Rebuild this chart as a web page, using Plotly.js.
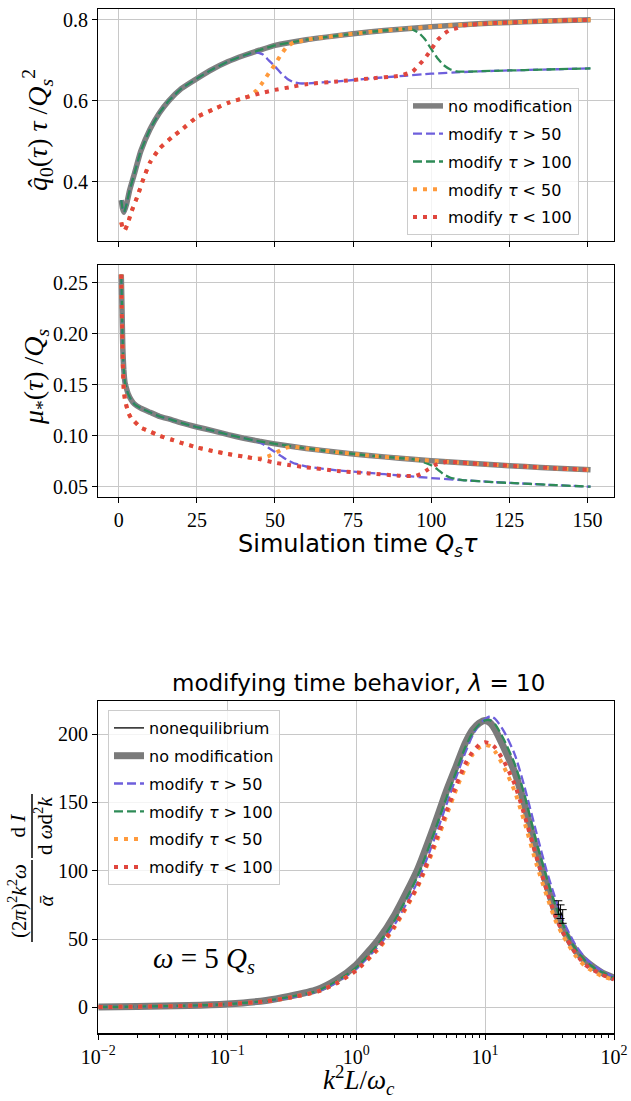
<!DOCTYPE html>
<html><head><meta charset="utf-8">
<script src="https://cdn.plot.ly/plotly-3.0.1.min.js"></script>
<style>html,body{margin:0;padding:0;background:#fff}</style>
</head><body><div id="chart" style="width:631px;height:1101px"></div>
<script>
// ---------- top panel: q0(tau) tau / Qs^2 ----------
const tauGrayTop = [0.8,1.2,1.7,2.5,3.5,5,7,10,13,16,20,25,30,35,40,45,50,60,70,80,90,100,110,120,130,140,151];
const qGray      = [0.355,0.335,0.325,0.345,0.38,0.42,0.475,0.53,0.57,0.60,0.63,0.655,0.678,0.697,0.712,0.725,0.737,0.751,0.761,0.77,0.777,0.783,0.788,0.792,0.795,0.798,0.80];
const tauBlueTop = [0.8,1.2,1.7,2.5,3.5,5,7,10,13,16,20,25,30,35,40,44,46,48,50,52,54,56,58,60,70,80,90,100,110,120,130,140,151];
const qBlue      = [0.355,0.335,0.325,0.345,0.38,0.42,0.475,0.53,0.57,0.60,0.63,0.655,0.678,0.697,0.712,0.72,0.715,0.70,0.685,0.668,0.654,0.646,0.643,0.643,0.648,0.655,0.661,0.667,0.671,0.674,0.676,0.678,0.680];
const tauGreenTop= [0.8,1.2,1.7,2.5,3.5,5,7,10,13,16,20,25,30,35,40,45,50,60,70,80,90,94,96,98,100,102,104,106,108,110,120,130,140,151];
const qGreen     = [0.355,0.335,0.325,0.345,0.38,0.42,0.475,0.53,0.57,0.60,0.63,0.655,0.678,0.697,0.712,0.725,0.737,0.751,0.761,0.77,0.777,0.776,0.768,0.752,0.728,0.705,0.688,0.678,0.673,0.672,0.674,0.676,0.678,0.680];
const tauOrangeTop=[0.8,1.2,1.9,3,4,6,8,10,13,17,20,25,30,35,40,42,44,46,48,50,52,54,56,58,60,70,80,90,100,110,120,130,140,151];
const qOrange    = [0.30,0.288,0.28,0.30,0.325,0.365,0.41,0.448,0.482,0.51,0.528,0.56,0.578,0.595,0.607,0.612,0.625,0.645,0.668,0.69,0.715,0.735,0.744,0.747,0.751,0.761,0.77,0.777,0.783,0.788,0.792,0.795,0.798,0.80];
const tauRedTop  = [0.8,1.2,1.9,3,4,6,8,10,13,17,20,25,30,35,40,45,50,55,60,70,80,90,94,96,98,100,102,104,106,108,110,120,130,140,151];
const qRed       = [0.30,0.288,0.28,0.30,0.325,0.365,0.41,0.448,0.482,0.51,0.528,0.56,0.578,0.595,0.607,0.618,0.627,0.634,0.641,0.648,0.655,0.662,0.672,0.688,0.705,0.727,0.75,0.765,0.775,0.779,0.786,0.792,0.795,0.798,0.80];

// ---------- middle panel: mu_*(tau) / Qs ----------
const tauGrayMid = [0.8,1.0,1.3,1.6,2,2.5,3,4,5,7,10,13,17,20,25,30,35,40,45,50,60,70,80,90,100,110,120,130,140,151];
const muGray     = [0.258,0.23,0.185,0.165,0.152,0.146,0.141,0.135,0.131,0.127,0.123,0.119,0.1155,0.1125,0.1085,0.105,0.101,0.0975,0.0945,0.092,0.0875,0.0838,0.0805,0.078,0.0755,0.0735,0.0715,0.0697,0.068,0.0665];
const tauBlueMid = [0.8,1.0,1.3,1.6,2,2.5,3,4,5,7,10,13,17,20,25,30,35,40,44,46,48,50,52,54,56,58,60,70,80,90,100,110,120,130,140,151];
const muBlue     = [0.258,0.23,0.185,0.165,0.152,0.146,0.141,0.135,0.131,0.127,0.123,0.119,0.1155,0.1125,0.1085,0.105,0.101,0.0975,0.0948,0.092,0.088,0.084,0.080,0.076,0.073,0.0715,0.0698,0.066,0.0635,0.061,0.0585,0.0565,0.0545,0.053,0.0515,0.050];
const tauGreenMid= [0.8,1.0,1.3,1.6,2,2.5,3,4,5,7,10,13,17,20,25,30,35,40,45,50,60,70,80,90,94,96,98,100,102,104,106,108,110,120,130,140,151];
const muGreen    = [0.258,0.23,0.185,0.165,0.152,0.146,0.141,0.135,0.131,0.127,0.123,0.119,0.1155,0.1125,0.1085,0.105,0.101,0.0975,0.0945,0.092,0.0875,0.0838,0.0805,0.078,0.077,0.0755,0.0735,0.071,0.067,0.062,0.059,0.0575,0.0565,0.0545,0.053,0.0515,0.050];
const tauOrangeMid=[0.8,1.0,1.3,1.6,2,3,4,5,7,10,13,17,20,25,30,35,40,44,46,48,50,52,54,56,60,70,80,90,100,110,120,130,140,151];
const muOrange   = [0.258,0.22,0.17,0.145,0.135,0.123,0.117,0.114,0.108,0.104,0.1,0.096,0.093,0.0885,0.085,0.082,0.0795,0.0775,0.078,0.080,0.083,0.086,0.0885,0.089,0.0875,0.0838,0.0805,0.078,0.0755,0.0735,0.0715,0.0697,0.068,0.0665];
const tauRedMid  = [0.8,1.0,1.3,1.6,2,3,4,5,7,10,13,17,20,25,30,35,40,45,50,55,60,70,80,90,95,97,99,101,103,105,107,110,120,130,140,151];
const muRed      = [0.258,0.22,0.17,0.145,0.135,0.123,0.117,0.114,0.108,0.104,0.1,0.096,0.093,0.0885,0.085,0.082,0.0795,0.077,0.0735,0.071,0.069,0.0655,0.063,0.0607,0.0605,0.063,0.067,0.071,0.073,0.0745,0.0742,0.0735,0.0715,0.0697,0.068,0.0665];

// ---------- bottom panel: spectrum vs k^2 L / omega_c ----------
const kL       = [0.01,0.02,0.05,0.1,0.2,0.3,0.5,0.7,1,1.5,2,3,4,5,6,7,8,9,10,11,12,14,17,20,25,30,35,40,50,60,70,80,100];
const specGray = [0.3,0.6,1.3,2.5,5,8,13,20,31,50,68,101,132,158,177,193,203,208,210,208,203,190,172,150,115,90,70,58,42,34,29,25.5,21.5];
const specBlue = [0.2,0.5,1.1,2.2,4.5,7,11.5,18,28,45,61,92,122,148,169,186,199,207,211,213,211,202,185,163,128,100,80,64,46,36,30.5,27,22];
const specGreen= [0.25,0.55,1.2,2.3,4.7,7.5,12,19,29,47,64,96,127,153,173,190,201,207,210,210,207,196,178,157,121,95,75,61,43,34,29,26,21.5];
const specOrange=[0.2,0.5,1.1,2.2,4.4,7,11.5,17.5,27,43,59,88,116,140,160,175,185,190,192,191,187,176,158,137,105,82,64,53,38,30,26,23,20];
const specRed  = [0.2,0.5,1.1,2.2,4.4,7,11.5,17.5,27,44,60,89,118,143,163,178,187,192,194,193,190,180,163,142,110,86,67,55,40,31,27,24,20.5];
const kLNoneq   = [37,38.5,40];
const specNoneq = [73,70,66.5];
const errNoneq  = [5,5,5];

const seriesNames = ['no modification','modify <i>τ</i> &gt; 50','modify <i>τ</i> &gt; 100','modify <i>τ</i> &lt; 50','modify <i>τ</i> &lt; 100'];
const timeTicks = [0,25,50,75,100,125,150];
const qTicks = [0.4,0.6,0.8];
const muTicks = [0.05,0.10,0.15,0.20,0.25];
const specTicks = [0,50,100,150,200];
const kLTicks = [0.01,0.1,1,10,100];
const kLTickText = ['10<sup>−2</sup>','10<sup>−1</sup>','10<sup>0</sup>','10<sup>1</sup>','10<sup>2</sup>'];

const W = 631, H = 1101;
const px = x => x / W, py = y => 1 - y / H;

const GRAY = '#808080', BLUE = '#6e5fdc', GREEN = '#2e8b57', ORANGE = '#ff9a3c', RED = '#e0463e';
const styles = [
  {color: GRAY, width: 5.5, dash: 'solid'},
  {color: BLUE, width: 2.3, dash: '9px,4px'},
  {color: GREEN, width: 2.3, dash: '9px,4px'},
  {color: ORANGE, width: 4, dash: '4px,6px'},
  {color: RED, width: 4, dash: '4px,6px'}
];

const traces = [];
const topX = [tauGrayTop, tauBlueTop, tauGreenTop, tauOrangeTop, tauRedTop];
const topY = [qGray, qBlue, qGreen, qOrange, qRed];
const midX = [tauGrayMid, tauBlueMid, tauGreenMid, tauOrangeMid, tauRedMid];
const midY = [muGray, muBlue, muGreen, muOrange, muRed];
const botY = [specGray, specBlue, specGreen, specOrange, specRed];

for (let i = 0; i < 5; i++) {
  traces.push({x: topX[i], y: topY[i], xaxis: 'x', yaxis: 'y', type: 'scatter', mode: 'lines',
    name: seriesNames[i], legend: 'legend', legendgroup: 'g' + i, legendrank: i + 1,
    line: {color: styles[i].color, width: styles[i].width, dash: styles[i].dash, shape: 'spline', smoothing: 0.4}});
}
for (let i = 0; i < 5; i++) {
  traces.push({x: midX[i], y: midY[i], xaxis: 'x2', yaxis: 'y2', type: 'scatter', mode: 'lines',
    showlegend: false, hoverinfo: 'skip',
    line: {color: styles[i].color, width: styles[i].width, dash: styles[i].dash, shape: 'spline', smoothing: 0.4}});
}
for (let i = 0; i < 5; i++) {
  traces.push({x: kL, y: botY[i], xaxis: 'x3', yaxis: 'y3', type: 'scatter', mode: 'lines',
    name: seriesNames[i], legend: 'legend2', legendgroup: 'h' + i, legendrank: i + 2,
    line: {color: i === 0 ? '#7a7a7a' : styles[i].color, width: i === 0 ? 7 : styles[i].width, dash: styles[i].dash, shape: 'spline', smoothing: 0.6}});
}
traces.push({x: kLNoneq, y: specNoneq, xaxis: 'x3', yaxis: 'y3', type: 'scatter', mode: 'lines',
  name: 'nonequilibrium', legend: 'legend2', legendgroup: 'h_neq', legendrank: 1,
  line: {color: 'black', width: 1.3},
  error_y: {type: 'data', array: errNoneq, visible: true, color: 'black', thickness: 1, width: 4}});

const tickFont = {family: 'Liberation Serif, DejaVu Serif, serif', size: 20, color: 'black'};
const xDom = [px(98.3), px(614)];
const axBase = {showline: true, mirror: true, linecolor: 'black', linewidth: 1.2, ticks: 'outside', ticklen: 5,
  tickcolor: 'black', showgrid: true, gridcolor: '#c8c8c8', gridwidth: 1, zeroline: false, tickfont: tickFont, automargin: false};
const legFont = {family: 'DejaVu Sans, sans-serif', size: 16, color: 'black'};

const layout = {
  width: W, height: H, margin: {l: 0, r: 0, t: 0, b: 0},
  paper_bgcolor: 'white', plot_bgcolor: 'white',
  font: {family: 'DejaVu Sans, sans-serif', color: 'black'},
  xaxis: Object.assign({}, axBase, {domain: xDom, anchor: 'y', range: [-6.55, 158.5], tickmode: 'array', tickvals: timeTicks, showticklabels: false}),
  yaxis: Object.assign({}, axBase, {domain: [py(241), py(9.3)], anchor: 'x', range: [0.254, 0.826], tickmode: 'array', tickvals: qTicks, ticktext: qTicks.map(v => v.toFixed(1))}),
  xaxis2: Object.assign({}, axBase, {domain: xDom, anchor: 'y2', range: [-6.55, 158.5], tickmode: 'array', tickvals: timeTicks}),
  yaxis2: Object.assign({}, axBase, {domain: [py(496.7), py(264.7)], anchor: 'x2', range: [0.0402, 0.2676], tickmode: 'array', tickvals: muTicks, ticktext: muTicks.map(v => v.toFixed(2))}),
  xaxis3: Object.assign({}, axBase, {domain: xDom, anchor: 'y3', type: 'log', range: [-2, 2], tickmode: 'array', tickvals: kLTicks, ticktext: kLTickText,
    minor: {ticks: 'outside', ticklen: 3, tickcolor: 'black', dtick: 'D1', showgrid: false}}),
  yaxis3: Object.assign({}, axBase, {domain: [py(1033.3), py(700.7)], anchor: 'x3', range: [-19, 224.4], tickmode: 'array', tickvals: specTicks}),
  legend: {x: px(407), y: py(88), xanchor: 'left', yanchor: 'top', bgcolor: 'rgba(255,255,255,0.8)', bordercolor: '#cccccc', borderwidth: 1,
    font: legFont, tracegroupgap: 4, traceorder: 'grouped'},
  legend2: {x: px(108), y: py(710), xanchor: 'left', yanchor: 'top', bgcolor: 'rgba(255,255,255,0.8)', bordercolor: '#cccccc', borderwidth: 1,
    font: legFont, tracegroupgap: 4, traceorder: 'grouped'},
  annotations: [
    {xref: 'paper', yref: 'paper', x: px(38), y: py(130), textangle: -90, showarrow: false, xanchor: 'center', yanchor: 'middle',
      text: '<i>q\u0302</i><sub>0</sub>(<i>τ</i>) <i>τ</i> /<i>Q</i><sub><i>s</i></sub><sup>2</sup>', font: {family: 'Liberation Serif, serif', size: 28}},
    {xref: 'paper', yref: 'paper', x: px(35), y: py(377), textangle: -90, showarrow: false, xanchor: 'center', yanchor: 'middle',
      text: '<i>μ</i><sub>*</sub>(<i>τ</i>) /<i>Q</i><sub><i>s</i></sub>', font: {family: 'Liberation Serif, serif', size: 28}},
    {xref: 'paper', yref: 'paper', x: px(358), y: py(545), showarrow: false, xanchor: 'center', yanchor: 'middle',
      text: 'Simulation time <i>Q</i><sub><i>s</i></sub><i>τ</i>', font: {family: 'DejaVu Sans, sans-serif', size: 24}},
    {xref: 'paper', yref: 'paper', x: px(358), y: py(683), showarrow: false, xanchor: 'center', yanchor: 'middle',
      text: 'modifying time behavior, <i>λ</i> = 10', font: {family: 'DejaVu Sans, sans-serif', size: 23}},
    {xref: 'paper', yref: 'paper', x: px(359), y: py(1080), showarrow: false, xanchor: 'center', yanchor: 'middle',
      text: '<i>k</i><sup>2</sup><i>L</i>/<i>ω</i><sub><i>c</i></sub>', font: {family: 'Liberation Serif, serif', size: 27}},
    {xref: 'paper', yref: 'paper', x: px(204), y: py(960), showarrow: false, xanchor: 'center', yanchor: 'middle',
      text: '<i>ω</i> = 5 <i>Q</i><sub><i>s</i></sub>', font: {family: 'Liberation Serif, serif', size: 29}},
    {xref: 'paper', yref: 'paper', x: px(31), y: py(901), textangle: -90, showarrow: false, xanchor: 'center', yanchor: 'middle',
      text: '(2<i>π</i>)<sup>2</sup><i>k</i><sup>2</sup><i>ω</i><br><i>α\u0304</i>', font: {family: 'Liberation Serif, serif', size: 21}},
    {xref: 'paper', yref: 'paper', x: px(31), y: py(826), textangle: -90, showarrow: false, xanchor: 'center', yanchor: 'middle',
      text: 'd <i>I</i><br>d <i>ω</i>d<sup>2</sup><i>k</i>', font: {family: 'Liberation Serif, serif', size: 21}}
  ],
  shapes: [
    {type: 'line', xref: 'paper', yref: 'paper', x0: px(32), x1: px(32), y0: py(860), y1: py(942), line: {color: 'black', width: 1.5}},
    {type: 'line', xref: 'paper', yref: 'paper', x0: px(32), x1: px(32), y0: py(794), y1: py(858), line: {color: 'black', width: 1.5}}
  ]
};

Plotly.newPlot('chart', traces, layout, {displayModeBar: false, staticPlot: true});
</script></body></html>
